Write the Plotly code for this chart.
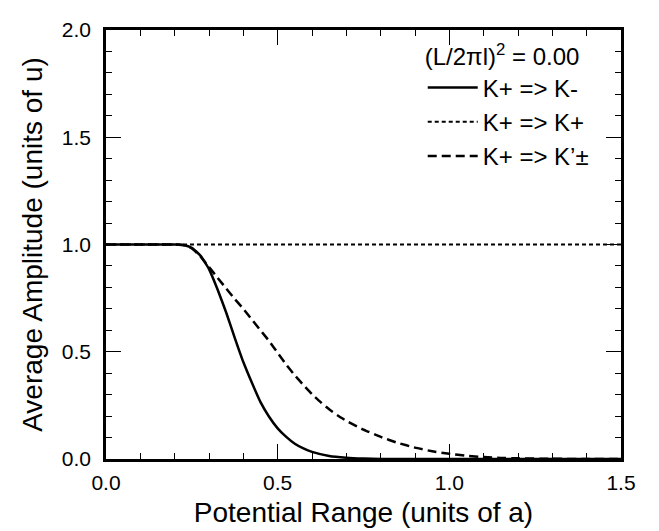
import plotly.graph_objects as go

# K+ => K-  (solid)
x_minus = [0.0, 0.1, 0.2, 0.225, 0.25, 0.275, 0.3, 0.325, 0.35, 0.375, 0.4, 0.425,
           0.45, 0.475, 0.5, 0.525, 0.55, 0.575, 0.6, 0.65, 0.7, 0.75, 0.8, 1.0, 1.5]
y_minus = [1.0, 1.0, 1.0, 0.998, 0.985, 0.948, 0.885, 0.79, 0.683, 0.565, 0.452, 0.355,
           0.265, 0.197, 0.143, 0.103, 0.071, 0.049, 0.033, 0.014, 0.006, 0.002, 0.0, 0.0, 0.0]

# K+ => K+  (dotted)
x_plus = [0.0, 1.5]
y_plus = [1.0, 1.0]

# K+ => K'±  (dashed)
x_prime = [0.0, 0.1, 0.2, 0.225, 0.25, 0.275, 0.3, 0.325, 0.35, 0.375, 0.4, 0.425, 0.45,
           0.475, 0.5, 0.525, 0.55, 0.575, 0.6, 0.625, 0.65, 0.675, 0.7, 0.75, 0.8, 0.85,
           0.9, 0.95, 1.0, 1.05, 1.1, 1.15, 1.2, 1.3, 1.4, 1.5]
y_prime = [1.0, 1.0, 1.0, 0.997, 0.982, 0.945, 0.895, 0.845, 0.795, 0.746, 0.70, 0.65, 0.60,
           0.55, 0.495, 0.44, 0.39, 0.345, 0.302, 0.265, 0.232, 0.203, 0.178, 0.137, 0.103, 0.075,
           0.053, 0.036, 0.024, 0.015, 0.009, 0.005, 0.003, 0.001, 0.0, 0.0]

FONT = "Liberation Sans, Arial, Helvetica, sans-serif"

fig = go.Figure()
fig.add_trace(go.Scatter(x=x_minus, y=y_minus, mode="lines", name="K+ => K-",
                         line=dict(color="black", width=2.5, shape="spline", smoothing=0.4)))
fig.add_trace(go.Scatter(x=x_plus, y=y_plus, mode="lines", name="K+ => K+",
                         line=dict(color="black", width=2, dash="4px,3px")))
fig.add_trace(go.Scatter(x=x_prime, y=y_prime, mode="lines", name="K+ => K’±",
                         line=dict(color="black", width=2.5, dash="9px,5px", shape="spline", smoothing=0.4)))

axis_common = dict(
    showline=True, linecolor="black", linewidth=2.5, mirror="allticks",
    ticks="inside", ticklen=15, tickwidth=1, tickcolor="black",
    showgrid=False, zeroline=False, tickformat=".1f", dtick=0.5,
    tickfont=dict(family=FONT, size=21, color="black"),
    minor=dict(ticks="inside", ticklen=6, tickwidth=1, tickcolor="black", dtick=0.1, showgrid=False),
)

fig.update_layout(
    width=659, height=531,
    margin=dict(l=98, r=46, t=10, b=80),
    paper_bgcolor="white", plot_bgcolor="white",
    font=dict(family=FONT, color="black"),
    xaxis=dict(range=[0, 1.5], ticklabelstandoff=3,
               title=dict(text="Potential Range (units of a)",
                          font=dict(family=FONT, size=28, color="black"), standoff=10),
               **axis_common),
    yaxis=dict(range=[0, 2.0], ticklabelstandoff=8,
               title=dict(text="Average Amplitude (units of u)",
                          font=dict(family=FONT, size=28, color="black"), standoff=12),
               **axis_common),
    legend=dict(
        title=dict(text="(L/2πl)<sup>2</sup> = 0.00", font=dict(family=FONT, size=24, color="black")),
        font=dict(family=FONT, size=24, color="black"),
        x=0.615, y=0.99, xanchor="left", yanchor="top",
        itemwidth=50,
        bgcolor="rgba(0,0,0,0)", borderwidth=0,
    ),
    showlegend=True,
)

fig.write_html("out.html")
